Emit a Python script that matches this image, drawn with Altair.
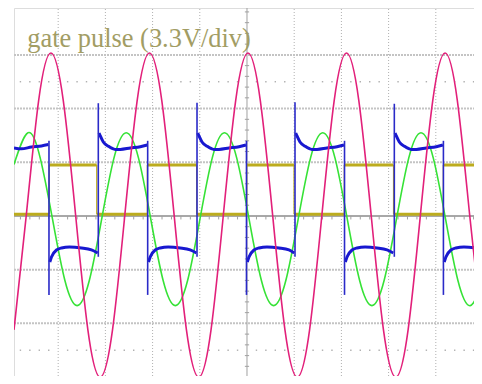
import altair as alt
import pandas as pd

# ---- screen geometry (divisions; 0 = screen centre) ----
X_DOMAIN = [-4.936, 4.809]
Y_DOMAIN = [-2.980, 3.873]

# ---- magenta trace (large sine) ----
magenta_x = [-4.936, -4.675, -4.414, -4.153, -3.892, -3.631, -3.371, -3.110,
             -2.849, -2.588, -2.327, -2.066, -1.805, -1.544, -1.283, -1.022,
             -0.762, -0.501, -0.240, 0.021, 0.282, 0.543, 0.804, 1.065,
             1.326, 1.587, 1.847, 2.108, 2.369, 2.630, 2.891, 3.152,
             3.413, 3.674, 3.935, 4.196, 4.456, 4.717, 4.978]
magenta_y = [-2.12, 0.02, 2.15, 3.035, 2.15, 0.02, -2.12, -3.0,
             -2.12, 0.02, 2.15, 3.035, 2.15, 0.02, -2.12, -3.0,
             -2.12, 0.02, 2.15, 3.035, 2.15, 0.02, -2.12, -3.0,
             -2.12, 0.02, 2.15, 3.035, 2.15, 0.02, -2.12, -3.0,
             -2.12, 0.02, 2.15, 3.035, 2.15, 0.02, -2.12]

# ---- green trace (small sine) ----
green_x = [-4.936, -4.640, -4.380, -4.120, -3.859, -3.599, -3.339, -3.079, -2.819,
           -2.558, -2.298, -2.038, -1.778, -1.518, -1.257, -0.997, -0.737,
           -0.477, -0.217, 0.044, 0.304, 0.564, 0.824, 1.084, 1.345,
           1.605, 1.865, 2.125, 2.385, 2.646, 2.906, 3.166, 3.426,
           3.686, 3.947, 4.207, 4.467, 4.727, 4.979]
green_y = [0.96, 1.55, 1.078, -0.06, -1.198, -1.67, -1.198, -0.06, 1.078,
           1.55, 1.078, -0.06, -1.198, -1.67, -1.198, -0.06, 1.078,
           1.55, 1.078, -0.06, -1.198, -1.67, -1.198, -0.06, 1.078,
           1.55, 1.078, -0.06, -1.198, -1.67, -1.198, -0.06, 1.078,
           1.55, 1.078, -0.06, -1.198, -1.67, -1.25]

# ---- blue trace (switched square-ish wave), one group per half cycle ----
blue_x = [
    -4.936, -4.778, -4.566, -4.354, -4.206,
    -4.178, -4.142, -4.036, -3.930, -3.761, -3.506, -3.295, -3.163,
    -3.135, -3.108, -3.044, -2.938, -2.790, -2.684, -2.472, -2.260, -2.112,
    -2.087, -2.051, -1.945, -1.839, -1.670, -1.415, -1.204, -1.072,
    -1.044, -1.017, -0.953, -0.847, -0.699, -0.593, -0.381, -0.169, -0.021,
    0.006, 0.042, 0.148, 0.254, 0.423, 0.678, 0.889, 1.000,
    1.032, 1.059, 1.123, 1.229, 1.377, 1.483, 1.695, 1.907, 2.055,
    2.083, 2.119, 2.225, 2.331, 2.500, 2.755, 2.966, 3.098,
    3.136, 3.163, 3.227, 3.333, 3.481, 3.587, 3.799, 4.011, 4.150,
    4.178, 4.214, 4.320, 4.426, 4.595, 4.850, 4.979,
]
blue_y = [
    1.266, 1.25, 1.285, 1.304, 1.33,
    -0.857, -0.764, -0.633, -0.596, -0.577, -0.596, -0.633, -0.689,
    1.546, 1.49, 1.378, 1.30, 1.24, 1.24, 1.266, 1.29, 1.322,
    -0.857, -0.764, -0.633, -0.596, -0.577, -0.596, -0.633, -0.689,
    1.546, 1.49, 1.378, 1.30, 1.24, 1.24, 1.266, 1.29, 1.322,
    -0.857, -0.764, -0.633, -0.596, -0.577, -0.596, -0.633, -0.689,
    1.546, 1.49, 1.378, 1.30, 1.24, 1.24, 1.266, 1.29, 1.322,
    -0.857, -0.764, -0.633, -0.596, -0.577, -0.596, -0.633, -0.689,
    1.546, 1.49, 1.378, 1.30, 1.24, 1.24, 1.266, 1.29, 1.322,
    -0.857, -0.764, -0.633, -0.596, -0.577, -0.596, -0.62,
]
blue_part = ([0] * 5 + [1] * 8 + [2] * 9 + [3] * 8 + [4] * 9 + [5] * 8
             + [6] * 9 + [7] * 8 + [8] * 9 + [9] * 7)

# switching spikes of the blue trace
spike_x = [-4.195, -3.150, -2.104, -1.059, -0.011, 1.017, 2.066, 3.121, 4.161]
spike_from = [1.40, -0.76, 1.40, -0.76, 1.40, -0.76, 1.40, -0.76, 1.40]
spike_to = [-1.47, 2.10, -1.47, 2.11, -1.47, 2.12, -1.47, 2.09, -1.47]

# ---- yellow gate pulse ----
gate_start = [-4.936, -4.189, -3.184, -2.112, -1.066, -0.006, 0.996, 2.061, 3.104, 4.159]
gate_end = [-4.189, -3.184, -2.112, -1.066, -0.006, 0.996, 2.061, 3.104, 4.159, 4.979]
gate_level = [0.03, 0.95, 0.03, 0.95, 0.03, 0.95, 0.03, 0.95, 0.03, 0.95]

title_text = ["gate pulse (3.3V/div)"]
title_x = [-4.655]
title_y = [3.156]

# ---- graticule ----
vgrid = [-4, -3, -2, -1, 1, 2, 3, 4]
hgrid = [-2, -1, 1, 2, 3]
dot_rows = [2.5, -2.5]

xs = alt.Scale(domain=X_DOMAIN, nice=False, zero=False)
ys = alt.Scale(domain=Y_DOMAIN, nice=False, zero=False)


def X(f):
    return alt.X(f"{f}:Q", scale=xs, axis=None)


def Y(f):
    return alt.Y(f"{f}:Q", scale=ys, axis=None)


vgrid_df = pd.DataFrame({"x": vgrid, "y": Y_DOMAIN[0], "y2": Y_DOMAIN[1]})
hgrid_df = pd.DataFrame({"y": hgrid, "x": X_DOMAIN[0], "x2": X_DOMAIN[1]})
center_df = pd.DataFrame({"x": [0.0], "y": [Y_DOMAIN[0]], "y2": [Y_DOMAIN[1]]})
hcenter_df = pd.DataFrame({"y": [0.0], "x": [X_DOMAIN[0]], "x2": [X_DOMAIN[1]]})

vt = [k * 0.2 for k in range(-14, 20) if k % 5 != 0]
vticks_df = pd.DataFrame({"y": vt, "x": -0.045, "x2": 0.045})
ht = [k * 0.2 for k in range(-24, 25) if k % 5 != 0]
hticks_df = pd.DataFrame({"x": ht, "y": 0.0, "y2": -0.065})
dots_df = pd.DataFrame([{"x": k * 0.2, "y": r} for r in dot_rows for k in range(-24, 25) if k % 5 != 0])

vgrid_l = alt.Chart(vgrid_df).mark_rule(color="#b0b0b0", strokeWidth=1, strokeDash=[1, 2], clip=True).encode(
    x=X("x"), y=Y("y"), y2="y2")
hgrid_l = alt.Chart(hgrid_df).mark_rule(color="#c4c4c4", strokeWidth=2, strokeDash=[2, 1], clip=True).encode(
    x=X("x"), x2="x2", y=Y("y"))
center_l = alt.Chart(center_df).mark_rule(color="#a0a0a0", strokeWidth=1, clip=True).encode(
    x=X("x"), y=Y("y"), y2="y2")
hcenter_l = alt.Chart(hcenter_df).mark_rule(color="#a8a8a8", strokeWidth=2, clip=True).encode(
    x=X("x"), x2="x2", y=Y("y"))
vticks_l = alt.Chart(vticks_df).mark_rule(color="#a0a0a0", strokeWidth=1, clip=True).encode(
    x=X("x"), x2="x2", y=Y("y"))
hticks_l = alt.Chart(hticks_df).mark_rule(color="#a0a0a0", strokeWidth=1, clip=True).encode(
    x=X("x"), y=Y("y"), y2="y2")
dots_l = alt.Chart(dots_df).mark_square(color="#b0b0b0", size=2, opacity=1, clip=True).encode(
    x=X("x"), y=Y("y"))

gate_df = pd.DataFrame({"x": gate_start, "x2": gate_end, "y": gate_level})
edge_df = pd.DataFrame({"x": gate_start[1:], "y": 0.03, "y2": 0.95})
gate_l = alt.Chart(gate_df).mark_rule(color="#bcac1e", strokeWidth=3, clip=True).encode(
    x=X("x"), x2="x2", y=Y("y"))
edge_l = alt.Chart(edge_df).mark_rule(color="#bcac1e", strokeWidth=1.2, clip=True).encode(
    x=X("x"), y=Y("y"), y2="y2")

green_df = pd.DataFrame({"x": green_x, "y": green_y})
green_l = alt.Chart(green_df).mark_line(color="#36e236", strokeWidth=1.6, interpolate="natural", clip=True).encode(
    x=X("x"), y=Y("y"), order="x:Q")

blue_df = pd.DataFrame({"x": blue_x, "y": blue_y, "part": blue_part})
blue_l = alt.Chart(blue_df).mark_line(color="#1818d0", strokeWidth=3, interpolate="monotone", clip=True).encode(
    x=X("x"), y=Y("y"), detail="part:N", order="x:Q")
spike_df = pd.DataFrame({"x": spike_x, "y": spike_from, "y2": spike_to})
spike_l = alt.Chart(spike_df).mark_rule(color="#2a2ac8", strokeWidth=1.6, clip=True).encode(
    x=X("x"), y=Y("y"), y2="y2")

mag_df = pd.DataFrame({"x": magenta_x, "y": magenta_y})
mag_l = alt.Chart(mag_df).mark_line(color="#e2207a", strokeWidth=1.6, interpolate="natural", clip=True).encode(
    x=X("x"), y=Y("y"), order="x:Q")

title_df = pd.DataFrame({"t": title_text, "x": title_x, "y": title_y})
title_l = alt.Chart(title_df).mark_text(
    font="Liberation Serif", fontSize=26.4, color="#a29d64", align="left", baseline="alphabetic"
).encode(x=X("x"), y=Y("y"), text="t:N")

chart = alt.layer(
    vgrid_l, hgrid_l, dots_l, center_l, hcenter_l, vticks_l, hticks_l,
    gate_l, edge_l, green_l, blue_l, spike_l, mag_l, title_l
).properties(
    width=460, height=368,
    autosize=alt.AutoSizeParams(type="none"),
    padding={"left": 6, "top": 0, "right": 0, "bottom": 0},
).configure_view(stroke=None).configure(background="white")

chart.save("out.html", embed_options={"renderer": "svg", "actions": False})
